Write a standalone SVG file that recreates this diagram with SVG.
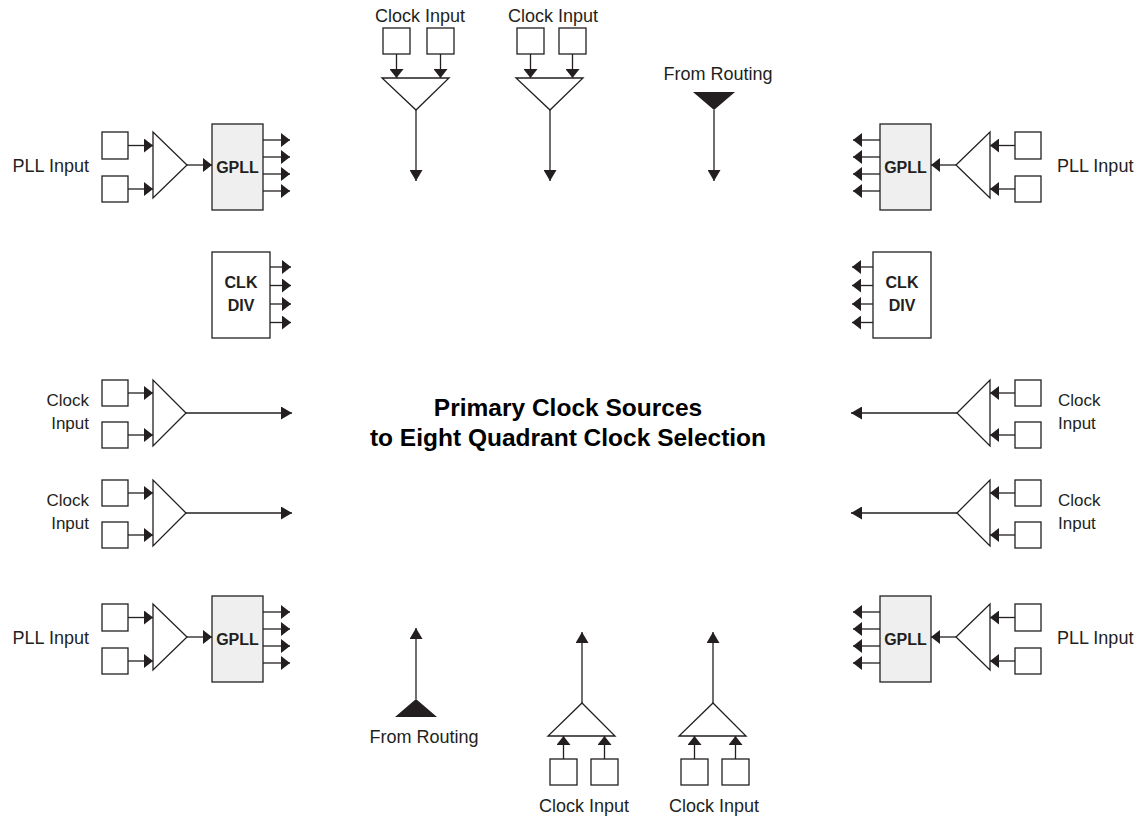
<svg xmlns="http://www.w3.org/2000/svg" width="1143" height="821" viewBox="0 0 1143 821">
<style>
.s{fill:#fff;stroke:#231f20;stroke-width:1.3}
.g{fill:#efefef;stroke:#231f20;stroke-width:1.3}
.k{fill:#231f20;stroke:none}
.c line{stroke:#231f20;stroke-width:1.3;marker-end:url(#a)}
.c line.w{marker-end:url(#b)}
.t{font-family:"Liberation Sans",Arial,sans-serif;font-size:18px;fill:#231f20}
.sl{font-size:17px}
.b{font-family:"Liberation Sans",Arial,sans-serif;font-size:16px;font-weight:bold;fill:#231f20;text-anchor:middle}
.h{font-family:"Liberation Sans",Arial,sans-serif;font-size:24.5px;font-weight:bold;fill:#000;text-anchor:middle}
</style>
<defs>
<marker id="a" markerUnits="userSpaceOnUse" markerWidth="9" markerHeight="14" refX="9" refY="7" orient="auto" viewBox="0 0 9 14"><path d="M0,0 L9,7 L0,14 z" fill="#231f20"/></marker>
<marker id="b" markerUnits="userSpaceOnUse" markerWidth="11" markerHeight="13" refX="11" refY="6.5" orient="auto" viewBox="0 0 11 13"><path d="M0,0 L11,6.5 L0,13 z" fill="#231f20"/></marker>
</defs>
<rect width="1143" height="821" fill="#fff"/>

<!-- Left top PLL -->
<g id="pll-tl">
<rect class="s" x="102" y="132" width="26" height="27"/>
<rect class="s" x="102" y="176" width="26" height="26"/>
<path class="s" d="M153,132 L153,198 L187,165 z"/>
<rect class="g" x="212" y="124" width="51" height="86"/>
<text class="b" x="237.5" y="173">GPLL</text>
<text class="t" x="89" y="172" text-anchor="end">PLL Input</text>
</g>
<!-- Left bottom PLL -->
<g id="pll-bl">
<rect class="s" x="102" y="604" width="26" height="27"/>
<rect class="s" x="102" y="648" width="26" height="26"/>
<path class="s" d="M153,604 L153,670 L187,637 z"/>
<rect class="g" x="212" y="596" width="51" height="86"/>
<text class="b" x="237.5" y="645">GPLL</text>
<text class="t" x="89" y="644" text-anchor="end">PLL Input</text>
</g>
<!-- Right top PLL -->
<g id="pll-tr">
<rect class="s" x="1015" y="132" width="26" height="27"/>
<rect class="s" x="1015" y="176" width="26" height="26"/>
<path class="s" d="M990,132 L990,198 L956,165 z"/>
<rect class="g" x="880" y="124" width="51" height="86"/>
<text class="b" x="905.5" y="173">GPLL</text>
<text class="t" x="1057" y="172">PLL Input</text>
</g>
<!-- Right bottom PLL -->
<g id="pll-br">
<rect class="s" x="1015" y="604" width="26" height="27"/>
<rect class="s" x="1015" y="648" width="26" height="26"/>
<path class="s" d="M990,604 L990,670 L956,637 z"/>
<rect class="g" x="880" y="596" width="51" height="86"/>
<text class="b" x="905.5" y="645">GPLL</text>
<text class="t" x="1057" y="644">PLL Input</text>
</g>

<!-- CLK DIV -->
<g id="clkdiv-l">
<rect class="s" x="212" y="252" width="58" height="86"/>
<text class="b" x="241" y="288">CLK</text>
<text class="b" x="241" y="311">DIV</text>
</g>
<g id="clkdiv-r">
<rect class="s" x="873" y="252" width="58" height="86"/>
<text class="b" x="902" y="288">CLK</text>
<text class="b" x="902" y="311">DIV</text>
</g>

<!-- Left clock inputs -->
<g id="clk-l1">
<rect class="s" x="102" y="380" width="26" height="26"/>
<rect class="s" x="102" y="422" width="26" height="26"/>
<path class="s" d="M153,380 L153,446 L186,413 z"/>
<text class="t sl" x="89" y="406" text-anchor="end">Clock</text>
<text class="t sl" x="89" y="429" text-anchor="end">Input</text>
</g>
<g id="clk-l2">
<rect class="s" x="102" y="480" width="26" height="26"/>
<rect class="s" x="102" y="522" width="26" height="26"/>
<path class="s" d="M153,480 L153,546 L186,513 z"/>
<text class="t sl" x="89" y="506" text-anchor="end">Clock</text>
<text class="t sl" x="89" y="529" text-anchor="end">Input</text>
</g>
<!-- Right clock inputs -->
<g id="clk-r1">
<rect class="s" x="1015" y="380" width="26" height="26"/>
<rect class="s" x="1015" y="422" width="26" height="26"/>
<path class="s" d="M990,380 L990,446 L957,413 z"/>
<text class="t sl" x="1058" y="406">Clock</text>
<text class="t sl" x="1058" y="429">Input</text>
</g>
<g id="clk-r2">
<rect class="s" x="1015" y="480" width="26" height="26"/>
<rect class="s" x="1015" y="522" width="26" height="26"/>
<path class="s" d="M990,480 L990,546 L957,513 z"/>
<text class="t sl" x="1058" y="506">Clock</text>
<text class="t sl" x="1058" y="529">Input</text>
</g>

<!-- Top clock inputs -->
<g id="clk-t1">
<rect class="s" x="383" y="28" width="27" height="26"/>
<rect class="s" x="427" y="28" width="27" height="26"/>
<path class="s" d="M382,78 L449,78 L416,110 z"/>
<text class="t" x="420" y="22" text-anchor="middle">Clock Input</text>
</g>
<g id="clk-t2">
<rect class="s" x="517" y="28" width="27" height="26"/>
<rect class="s" x="559" y="28" width="27" height="26"/>
<path class="s" d="M516,78 L583,78 L550,110 z"/>
<text class="t" x="553" y="22" text-anchor="middle">Clock Input</text>
</g>
<g id="route-t">
<path class="k" d="M693,92 L735,92 L714,110 z"/>
<text class="t" x="718" y="80" text-anchor="middle">From Routing</text>
</g>

<!-- Bottom -->
<g id="route-b">
<path class="k" d="M395,717 L437,717 L416,699 z"/>
<text class="t" x="424" y="743" text-anchor="middle">From Routing</text>
</g>
<g id="clk-b1">
<rect class="s" x="550" y="759" width="27" height="26"/>
<rect class="s" x="591" y="759" width="27" height="26"/>
<path class="s" d="M548,736 L615,736 L582,703 z"/>
<text class="t" x="584" y="812" text-anchor="middle">Clock Input</text>
</g>
<g id="clk-b2">
<rect class="s" x="681" y="759" width="27" height="26"/>
<rect class="s" x="722" y="759" width="27" height="26"/>
<path class="s" d="M679,736 L746,736 L713,703 z"/>
<text class="t" x="714" y="812" text-anchor="middle">Clock Input</text>
</g>

<!-- Center title -->
<g id="title">
<text class="h" x="568" y="416">Primary Clock Sources</text>
<text class="h" x="568" y="446">to Eight Quadrant Clock Selection</text>
</g>

<!-- Connectors -->
<g id="connectors" class="c">
<line x1="128" y1="145.5" x2="153" y2="145.5"/>
<line x1="128" y1="189" x2="153" y2="189"/>
<line x1="187" y1="165" x2="212" y2="165"/>
<line x1="263" y1="140" x2="290" y2="140"/>
<line x1="263" y1="157" x2="290" y2="157"/>
<line x1="263" y1="174" x2="290" y2="174"/>
<line x1="263" y1="191" x2="290" y2="191"/>
<line x1="128" y1="617.5" x2="153" y2="617.5"/>
<line x1="128" y1="661" x2="153" y2="661"/>
<line x1="187" y1="637" x2="212" y2="637"/>
<line x1="263" y1="612" x2="290" y2="612"/>
<line x1="263" y1="629" x2="290" y2="629"/>
<line x1="263" y1="646" x2="290" y2="646"/>
<line x1="263" y1="663" x2="290" y2="663"/>
<line x1="1015" y1="145.5" x2="990" y2="145.5"/>
<line x1="1015" y1="189" x2="990" y2="189"/>
<line x1="956" y1="165" x2="931" y2="165"/>
<line x1="880" y1="140" x2="853" y2="140"/>
<line x1="880" y1="157" x2="853" y2="157"/>
<line x1="880" y1="174" x2="853" y2="174"/>
<line x1="880" y1="191" x2="853" y2="191"/>
<line x1="1015" y1="617.5" x2="990" y2="617.5"/>
<line x1="1015" y1="661" x2="990" y2="661"/>
<line x1="956" y1="637" x2="931" y2="637"/>
<line x1="880" y1="612" x2="853" y2="612"/>
<line x1="880" y1="629" x2="853" y2="629"/>
<line x1="880" y1="646" x2="853" y2="646"/>
<line x1="880" y1="663" x2="853" y2="663"/>
<line x1="270" y1="267" x2="291" y2="267"/>
<line x1="270" y1="285.5" x2="291" y2="285.5"/>
<line x1="270" y1="304" x2="291" y2="304"/>
<line x1="270" y1="322.5" x2="291" y2="322.5"/>
<line x1="873" y1="267" x2="852" y2="267"/>
<line x1="873" y1="285.5" x2="852" y2="285.5"/>
<line x1="873" y1="304" x2="852" y2="304"/>
<line x1="873" y1="322.5" x2="852" y2="322.5"/>
<line x1="128" y1="393" x2="153" y2="393"/>
<line x1="128" y1="435" x2="153" y2="435"/>
<line class="w" x1="186" y1="413" x2="292" y2="413"/>
<line x1="128" y1="493" x2="153" y2="493"/>
<line x1="128" y1="535" x2="153" y2="535"/>
<line class="w" x1="186" y1="513" x2="292" y2="513"/>
<line x1="1015" y1="393" x2="990" y2="393"/>
<line x1="1015" y1="435" x2="990" y2="435"/>
<line class="w" x1="957" y1="413" x2="851" y2="413"/>
<line x1="1015" y1="493" x2="990" y2="493"/>
<line x1="1015" y1="535" x2="990" y2="535"/>
<line class="w" x1="957" y1="513" x2="851" y2="513"/>
<line x1="396.5" y1="54" x2="396.5" y2="78"/>
<line x1="440.5" y1="54" x2="440.5" y2="78"/>
<line class="w" x1="416" y1="110" x2="416" y2="181"/>
<line x1="530.5" y1="54" x2="530.5" y2="78"/>
<line x1="572.5" y1="54" x2="572.5" y2="78"/>
<line class="w" x1="550" y1="110" x2="550" y2="181"/>
<line class="w" x1="714" y1="110" x2="714" y2="181"/>
<line class="w" x1="416" y1="699" x2="416" y2="628"/>
<line x1="563.5" y1="759" x2="563.5" y2="736"/>
<line x1="604.5" y1="759" x2="604.5" y2="736"/>
<line class="w" x1="582" y1="703" x2="582" y2="632"/>
<line x1="694.5" y1="759" x2="694.5" y2="736"/>
<line x1="735.5" y1="759" x2="735.5" y2="736"/>
<line class="w" x1="713" y1="703" x2="713" y2="632"/>
</g>
</svg>
